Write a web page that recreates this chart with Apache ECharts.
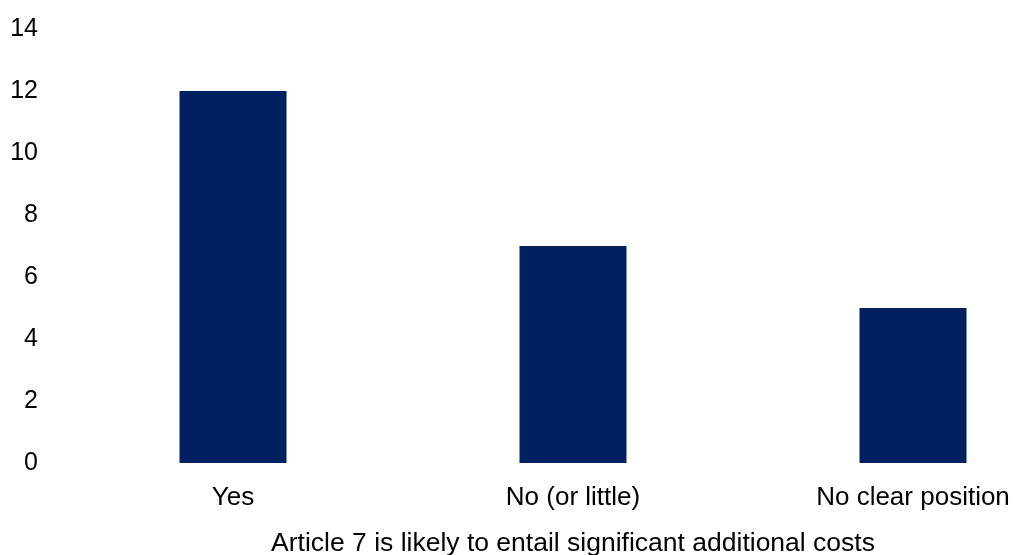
<!DOCTYPE html>
<html>
<head>
<meta charset="utf-8">
<script src="https://cdn.jsdelivr.net/npm/echarts@6/dist/echarts.min.js"></script>
<style>
	html,body{margin:0;padding:0;background:#fff;}
	#chart{width:1016px;height:555px;}
</style>
</head>
<body>
<div id="chart"></div>
<script>
var categories = ['Yes', 'No (or little)', 'No clear position'];
var counts = [12, 7, 5];
var axisTitle = 'Article 7 is likely to entail significant additional costs';

var chart = echarts.init(document.getElementById('chart'));

var option = {
	animation: false,
	textStyle: { fontFamily: 'Liberation Sans, Arial, sans-serif' },
	grid: {
		left: 63,
		top: 29,
		bottom: 92,
		width: 1020,
		outerBoundsMode: 'none',
		containLabel: false
	},
	xAxis: {
		type: 'category',
		data: categories,
		name: axisTitle,
		nameLocation: 'middle',
		nameGap: 67,
		nameTextStyle: {
			fontSize: 26.5,
			color: '#000',
			verticalAlign: 'top'
		},
		axisLine: { show: false },
		axisTick: { show: false },
		axisLabel: {
			margin: 22,
			fontSize: 26,
			color: '#000',
			interval: 0
		}
	},
	yAxis: {
		type: 'value',
		min: 0,
		max: 14,
		interval: 2,
		splitLine: { show: false },
		axisLine: { show: false },
		axisTick: { show: false },
		axisLabel: {
			margin: 25,
			fontSize: 25,
			color: '#000'
		}
	},
	series: [
		{
			type: 'bar',
			data: counts,
			barWidth: 107,
			itemStyle: { color: '#002060' }
		}
	]
};

chart.setOption(option);
</script>
</body>
</html>
